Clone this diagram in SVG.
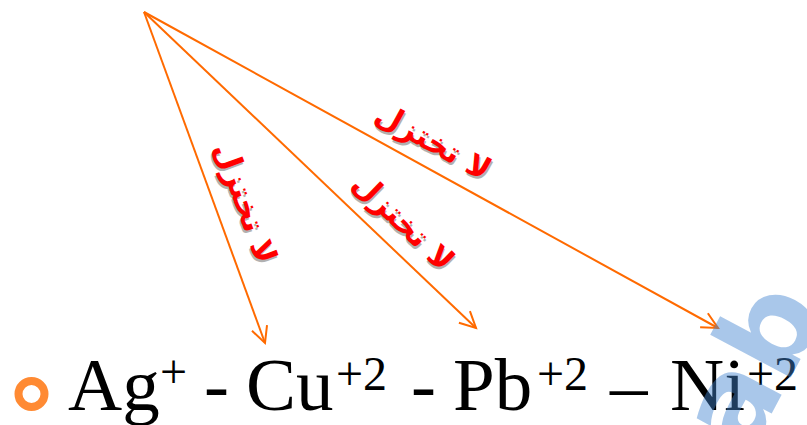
<svg xmlns="http://www.w3.org/2000/svg" width="807" height="425" viewBox="0 0 807 425">
<style>
.arr{fill:none;stroke:#ff6a00;stroke-width:2;marker-end:url(#head)}
.lbl{font-family:"DejaVu Sans",sans-serif;font-weight:bold;font-size:31px;fill:#ff0000;text-anchor:middle}
.sh{font-family:"DejaVu Sans",sans-serif;font-weight:bold;font-size:31px;fill:#000;opacity:0.3;text-anchor:middle}
.main{font-family:"Liberation Serif",serif;font-size:75px;fill:#000}
.sup{font-family:"Liberation Serif",serif;font-size:48px;fill:#000}
</style>
<defs>
<marker id="head" markerUnits="userSpaceOnUse" markerWidth="22" markerHeight="22" refX="18" refY="10" orient="auto" viewBox="0 0 22 22">
<path d="M2,2 L18,10 L2,18" fill="none" stroke="#ff6a00" stroke-width="2"/>
</marker>
</defs>
<rect width="807" height="425" fill="#fff"/>
<g id="connectors">
<line class="arr" x1="144" y1="12" x2="265" y2="343"/>
<line class="arr" x1="144" y1="12" x2="476" y2="328"/>
<line class="arr" x1="144" y1="12" x2="718" y2="328"/>
</g>
<g id="label1" transform="translate(245,203) rotate(70)">
<text class="sh" x="2" y="12">لا تختزل</text>
<text class="lbl" x="0" y="10">لا تختزل</text>
</g>
<g id="label2" transform="translate(403,222) rotate(44)">
<text class="sh" x="2" y="12">لا تختزل</text>
<text class="lbl" x="0" y="10">لا تختزل</text>
</g>
<g id="label3" transform="translate(433,142) rotate(29)">
<text class="sh" x="2" y="12">لا تختزل</text>
<text class="lbl" x="0" y="10">لا تختزل</text>
</g>
<g id="formula">
<circle cx="31.5" cy="394" r="13" fill="none" stroke="#ff8a33" stroke-width="8"/>
<text class="main" x="68" y="410">Ag</text>
<text class="sup" x="160" y="388">+</text>
<text class="main" x="204" y="410">-</text>
<text class="main" x="246" y="410">Cu</text>
<text class="sup" x="336" y="390">+2</text>
<text class="main" x="411" y="410">-</text>
<text class="main" x="453" y="410">Pb</text>
<text class="sup" x="537" y="390">+2</text>
<text class="main" x="610" y="410">–</text>
<text class="main" x="670" y="410">Ni</text>
<text class="sup" x="747" y="390">+2</text>
</g>
<g id="watermark" opacity="0.45">
<text x="0" y="0" transform="translate(748,458) rotate(-62)" font-family="DejaVu Sans,sans-serif" font-weight="bold" font-size="120" fill="#4385d1">ab</text>
</g>
</svg>
